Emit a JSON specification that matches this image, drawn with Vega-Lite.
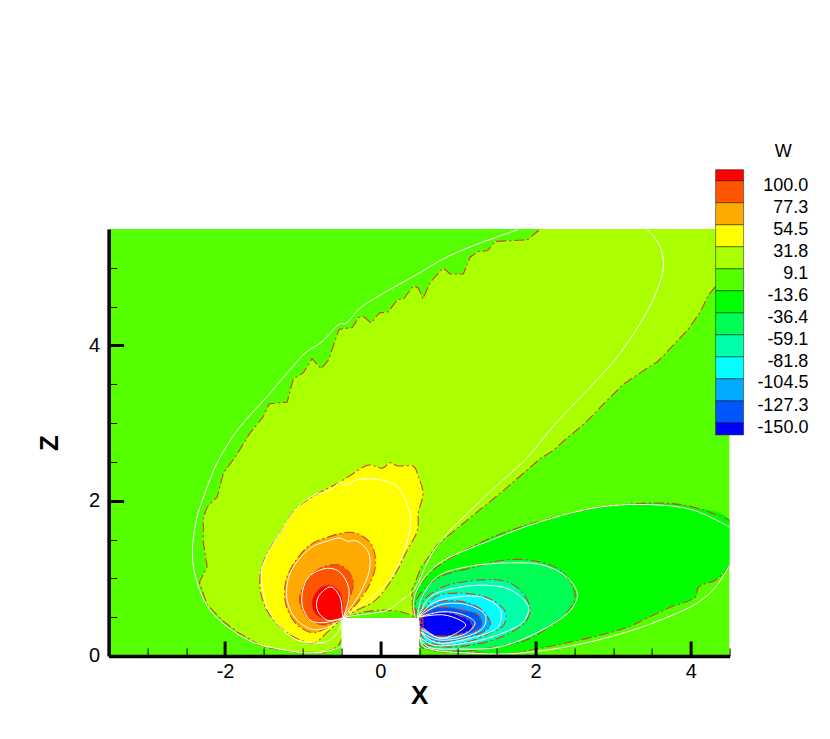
{"$schema":"https://vega.github.io/schema/vega-lite/v6.json","width":621,"height":427,"autosize":"none","padding":{"left":108.6,"top":229,"right":100,"bottom":83},"background":"white","config":{"view":{"stroke":null},"font":"Liberation Sans"},
"datasets":{
"fills":[
{"p":"base","x":-3.5,"z":0},{"p":"base","x":4.5,"z":0},{"p":"base","x":4.5,"z":5.5},{"p":"base","x":-3.5,"z":5.5},
{"p":"9.1","x":-0.48,"z":0.245},{"p":"9.1","x":-0.55,"z":0.116},{"p":"9.1","x":-0.73,"z":0.04},{"p":"9.1","x":-1.07,"z":0.05},{"p":"9.1","x":-1.51,"z":0.116},{"p":"9.1","x":-1.83,"z":0.3},{"p":"9.1","x":-2.04,"z":0.46},{"p":"9.1","x":-2.23,"z":0.66},{"p":"9.1","x":-2.33,"z":0.95},{"p":"9.1","x":-2.23,"z":1.15},{"p":"9.1","x":-2.28,"z":1.46},{"p":"9.1","x":-2.28,"z":1.78},{"p":"9.1","x":-2.23,"z":1.92},{"p":"9.1","x":-2.1,"z":2.05},{"p":"9.1","x":-2.02,"z":2.36},{"p":"9.1","x":-1.87,"z":2.56},{"p":"9.1","x":-1.68,"z":2.87},{"p":"9.1","x":-1.51,"z":3.08},{"p":"9.1","x":-1.43,"z":3.25},{"p":"9.1","x":-1.2,"z":3.27},{"p":"9.1","x":-1.12,"z":3.57},{"p":"9.1","x":-0.99,"z":3.65},{"p":"9.1","x":-0.88,"z":3.83},{"p":"9.1","x":-0.76,"z":3.7},{"p":"9.1","x":-0.67,"z":3.81},{"p":"9.1","x":-0.53,"z":4.21},{"p":"9.1","x":-0.36,"z":4.23},{"p":"9.1","x":-0.28,"z":4.36},{"p":"9.1","x":-0.21,"z":4.37},{"p":"9.1","x":-0.12,"z":4.29},{"p":"9.1","x":-0.01,"z":4.42},{"p":"9.1","x":0.1,"z":4.43},{"p":"9.1","x":0.22,"z":4.59},{"p":"9.1","x":0.3,"z":4.6},{"p":"9.1","x":0.43,"z":4.77},{"p":"9.1","x":0.49,"z":4.74},{"p":"9.1","x":0.55,"z":4.6},{"p":"9.1","x":0.64,"z":4.81},{"p":"9.1","x":0.81,"z":5.0},{"p":"9.1","x":0.9,"z":4.92},{"p":"9.1","x":1.07,"z":4.92},{"p":"9.1","x":1.16,"z":5.14},{"p":"9.1","x":1.26,"z":5.21},{"p":"9.1","x":1.38,"z":5.22},{"p":"9.1","x":1.48,"z":5.34},{"p":"9.1","x":1.89,"z":5.36},{"p":"9.1","x":2.04,"z":5.48},{"p":"9.1","x":2.06,"z":5.5},{"p":"9.1","x":4.5,"z":5.5},{"p":"9.1","x":4.5,"z":5.04},{"p":"9.1","x":4.32,"z":4.76},{"p":"9.1","x":4.23,"z":4.65},{"p":"9.1","x":4.12,"z":4.43},{"p":"9.1","x":3.97,"z":4.21},{"p":"9.1","x":3.8,"z":4.03},{"p":"9.1","x":3.65,"z":3.87},{"p":"9.1","x":3.57,"z":3.79},{"p":"9.1","x":3.35,"z":3.65},{"p":"9.1","x":3.12,"z":3.49},{"p":"9.1","x":3.03,"z":3.4},{"p":"9.1","x":2.84,"z":3.21},{"p":"9.1","x":2.77,"z":3.13},{"p":"9.1","x":2.58,"z":2.95},{"p":"9.1","x":2.41,"z":2.81},{"p":"9.1","x":2.23,"z":2.65},{"p":"9.1","x":2.06,"z":2.54},{"p":"9.1","x":1.55,"z":2.1},{"p":"9.1","x":1.12,"z":1.75},{"p":"9.1","x":0.73,"z":1.43},{"p":"9.1","x":0.52,"z":1.13},{"p":"9.1","x":0.41,"z":0.85},{"p":"9.1","x":0.41,"z":0.68},{"p":"9.1","x":0.48,"z":0.49},{"p":"9.1","x":-0.48,"z":0.49},
{"p":"-13.6b","x":-0.43,"z":0.49},{"p":"-13.6b","x":-0.28,"z":0.55},{"p":"-13.6b","x":0,"z":0.59},{"p":"-13.6b","x":0.26,"z":0.57},{"p":"-13.6b","x":0.48,"z":0.49},{"p":"-13.6b","x":-0.43,"z":0.49},
{"p":"31.8","x":-0.48,"z":0.5},{"p":"31.8","x":-0.68,"z":0.31},{"p":"31.8","x":-0.86,"z":0.17},{"p":"31.8","x":-1.2,"z":0.3},{"p":"31.8","x":-1.46,"z":0.59},{"p":"31.8","x":-1.55,"z":0.89},{"p":"31.8","x":-1.51,"z":1.2},{"p":"31.8","x":-1.29,"z":1.59},{"p":"31.8","x":-1.07,"z":1.91},{"p":"31.8","x":-0.77,"z":2.11},{"p":"31.8","x":-0.52,"z":2.24},{"p":"31.8","x":-0.35,"z":2.35},{"p":"31.8","x":-0.15,"z":2.46},{"p":"31.8","x":0.03,"z":2.42},{"p":"31.8","x":0.13,"z":2.49},{"p":"31.8","x":0.22,"z":2.45},{"p":"31.8","x":0.43,"z":2.44},{"p":"31.8","x":0.49,"z":2.31},{"p":"31.8","x":0.55,"z":2.1},{"p":"31.8","x":0.49,"z":1.84},{"p":"31.8","x":0.48,"z":1.62},{"p":"31.8","x":0.35,"z":1.37},{"p":"31.8","x":0.17,"z":1.02},{"p":"31.8","x":-0.06,"z":0.72},{"p":"31.8","x":-0.3,"z":0.59},{"p":"31.8","x":-0.48,"z":0.5},
{"p":"54.5","x":-0.48,"z":0.5},{"p":"54.5","x":-0.68,"z":0.37},{"p":"54.5","x":-0.86,"z":0.3},{"p":"54.5","x":-1.07,"z":0.4},{"p":"54.5","x":-1.22,"z":0.68},{"p":"54.5","x":-1.2,"z":1.02},{"p":"54.5","x":-0.94,"z":1.4},{"p":"54.5","x":-0.68,"z":1.53},{"p":"54.5","x":-0.35,"z":1.59},{"p":"54.5","x":-0.13,"z":1.46},{"p":"54.5","x":-0.06,"z":1.2},{"p":"54.5","x":-0.13,"z":0.94},{"p":"54.5","x":-0.3,"z":0.68},{"p":"54.5","x":-0.48,"z":0.5},
{"p":"77.3","x":-0.48,"z":0.5},{"p":"77.3","x":-0.73,"z":0.4},{"p":"77.3","x":-0.93,"z":0.49},{"p":"77.3","x":-1.04,"z":0.72},{"p":"77.3","x":-0.94,"z":0.98},{"p":"77.3","x":-0.77,"z":1.13},{"p":"77.3","x":-0.52,"z":1.17},{"p":"77.3","x":-0.35,"z":0.98},{"p":"77.3","x":-0.39,"z":0.76},{"p":"77.3","x":-0.48,"z":0.5},
{"p":"100.0","x":-0.48,"z":0.5},{"p":"100.0","x":-0.68,"z":0.46},{"p":"100.0","x":-0.84,"z":0.55},{"p":"100.0","x":-0.88,"z":0.7},{"p":"100.0","x":-0.77,"z":0.88},{"p":"100.0","x":-0.64,"z":0.91},{"p":"100.0","x":-0.52,"z":0.82},{"p":"100.0","x":-0.48,"z":0.63},{"p":"100.0","x":-0.48,"z":0.5},
{"p":"-36.4","x":0.45,"z":0.5},{"p":"-36.4","x":0.41,"z":0.66},{"p":"-36.4","x":0.48,"z":0.85},{"p":"-36.4","x":0.68,"z":1.11},{"p":"-36.4","x":1.29,"z":1.46},{"p":"-36.4","x":1.77,"z":1.65},{"p":"-36.4","x":2.54,"z":1.86},{"p":"-36.4","x":2.93,"z":1.93},{"p":"-36.4","x":3.61,"z":1.97},{"p":"-36.4","x":4.03,"z":1.92},{"p":"-36.4","x":4.5,"z":1.75},{"p":"-36.4","x":4.5,"z":1.17},{"p":"-36.4","x":4.48,"z":1.13},{"p":"-36.4","x":4.32,"z":0.98},{"p":"-36.4","x":4.1,"z":0.89},{"p":"-36.4","x":4.06,"z":0.76},{"p":"-36.4","x":3.74,"z":0.63},{"p":"-36.4","x":3.44,"z":0.49},{"p":"-36.4","x":3.18,"z":0.37},{"p":"-36.4","x":2.84,"z":0.27},{"p":"-36.4","x":2.41,"z":0.17},{"p":"-36.4","x":2.06,"z":0.1},{"p":"-36.4","x":1.64,"z":0.03},{"p":"-36.4","x":1.12,"z":0.05},{"p":"-36.4","x":0.64,"z":0.08},{"p":"-36.4","x":0.52,"z":0.21},{"p":"-36.4","x":0.49,"z":0.46},
{"p":"-59.1","x":0.49,"z":0.5},{"p":"-59.1","x":0.45,"z":0.66},{"p":"-59.1","x":0.52,"z":0.81},{"p":"-59.1","x":0.77,"z":1.02},{"p":"-59.1","x":1.16,"z":1.13},{"p":"-59.1","x":1.64,"z":1.24},{"p":"-59.1","x":2.06,"z":1.21},{"p":"-59.1","x":2.36,"z":1.07},{"p":"-59.1","x":2.51,"z":0.76},{"p":"-59.1","x":2.38,"z":0.53},{"p":"-59.1","x":2.15,"z":0.36},{"p":"-59.1","x":1.89,"z":0.21},{"p":"-59.1","x":1.51,"z":0.12},{"p":"-59.1","x":1.03,"z":0.06},{"p":"-59.1","x":0.68,"z":0.08},{"p":"-59.1","x":0.52,"z":0.12},{"p":"-59.1","x":0.5,"z":0.3},{"p":"-59.1","x":0.49,"z":0.5},
{"p":"-81.8","x":0.52,"z":0.53},{"p":"-81.8","x":0.55,"z":0.7},{"p":"-81.8","x":0.81,"z":0.89},{"p":"-81.8","x":1.29,"z":0.98},{"p":"-81.8","x":1.57,"z":0.97},{"p":"-81.8","x":1.77,"z":0.88},{"p":"-81.8","x":1.93,"z":0.62},{"p":"-81.8","x":1.87,"z":0.44},{"p":"-81.8","x":1.55,"z":0.24},{"p":"-81.8","x":1.16,"z":0.14},{"p":"-81.8","x":0.81,"z":0.12},{"p":"-81.8","x":0.55,"z":0.17},{"p":"-81.8","x":0.52,"z":0.3},{"p":"-81.8","x":0.52,"z":0.53},
{"p":"-104.5","x":0.52,"z":0.53},{"p":"-104.5","x":0.71,"z":0.76},{"p":"-104.5","x":0.99,"z":0.81},{"p":"-104.5","x":1.38,"z":0.75},{"p":"-104.5","x":1.61,"z":0.57},{"p":"-104.5","x":1.59,"z":0.4},{"p":"-104.5","x":1.42,"z":0.3},{"p":"-104.5","x":1.12,"z":0.18},{"p":"-104.5","x":0.77,"z":0.14},{"p":"-104.5","x":0.55,"z":0.23},{"p":"-104.5","x":0.52,"z":0.53},
{"p":"-127.3","x":0.55,"z":0.57},{"p":"-127.3","x":0.77,"z":0.7},{"p":"-127.3","x":0.97,"z":0.71},{"p":"-127.3","x":1.2,"z":0.66},{"p":"-127.3","x":1.35,"z":0.55},{"p":"-127.3","x":1.42,"z":0.4},{"p":"-127.3","x":1.31,"z":0.3},{"p":"-127.3","x":1.07,"z":0.23},{"p":"-127.3","x":0.77,"z":0.18},{"p":"-127.3","x":0.58,"z":0.27},{"p":"-127.3","x":0.55,"z":0.57},
{"p":"-150.0","x":0.54,"z":0.55},{"p":"-150.0","x":0.77,"z":0.63},{"p":"-150.0","x":1.07,"z":0.59},{"p":"-150.0","x":1.26,"z":0.53},{"p":"-150.0","x":1.31,"z":0.4},{"p":"-150.0","x":1.2,"z":0.31},{"p":"-150.0","x":0.94,"z":0.26},{"p":"-150.0","x":0.68,"z":0.27},{"p":"-150.0","x":0.54,"z":0.36},{"p":"-150.0","x":0.54,"z":0.55},
{"p":"min","x":0.5,"z":0.5},{"p":"min","x":0.73,"z":0.57},{"p":"min","x":0.99,"z":0.53},{"p":"min","x":1.16,"z":0.44},{"p":"min","x":1.19,"z":0.37},{"p":"min","x":1.1,"z":0.31},{"p":"min","x":0.86,"z":0.26},{"p":"min","x":0.67,"z":0.26},{"p":"min","x":0.58,"z":0.34},{"p":"min","x":0.5,"z":0.4},{"p":"min","x":0.5,"z":0.5}
],
"open":[
{"p":"a","x":-0.48,"z":0.245},{"p":"a","x":-0.55,"z":0.116},{"p":"a","x":-0.73,"z":0.04},{"p":"a","x":-1.07,"z":0.05},{"p":"a","x":-1.51,"z":0.116},{"p":"a","x":-1.83,"z":0.3},{"p":"a","x":-2.04,"z":0.46},{"p":"a","x":-2.23,"z":0.66},{"p":"a","x":-2.33,"z":0.95},{"p":"a","x":-2.23,"z":1.15},{"p":"a","x":-2.28,"z":1.46},{"p":"a","x":-2.28,"z":1.78},{"p":"a","x":-2.23,"z":1.92},{"p":"a","x":-2.1,"z":2.05},{"p":"a","x":-2.02,"z":2.36},{"p":"a","x":-1.87,"z":2.56},{"p":"a","x":-1.68,"z":2.87},{"p":"a","x":-1.51,"z":3.08},{"p":"a","x":-1.43,"z":3.25},{"p":"a","x":-1.2,"z":3.27},{"p":"a","x":-1.12,"z":3.57},{"p":"a","x":-0.99,"z":3.65},{"p":"a","x":-0.88,"z":3.83},{"p":"a","x":-0.76,"z":3.7},{"p":"a","x":-0.67,"z":3.81},{"p":"a","x":-0.53,"z":4.21},{"p":"a","x":-0.36,"z":4.23},{"p":"a","x":-0.28,"z":4.36},{"p":"a","x":-0.21,"z":4.37},{"p":"a","x":-0.12,"z":4.29},{"p":"a","x":-0.01,"z":4.42},{"p":"a","x":0.1,"z":4.43},{"p":"a","x":0.22,"z":4.59},{"p":"a","x":0.3,"z":4.6},{"p":"a","x":0.43,"z":4.77},{"p":"a","x":0.49,"z":4.74},{"p":"a","x":0.55,"z":4.6},{"p":"a","x":0.64,"z":4.81},{"p":"a","x":0.81,"z":5.0},{"p":"a","x":0.9,"z":4.92},{"p":"a","x":1.07,"z":4.92},{"p":"a","x":1.16,"z":5.14},{"p":"a","x":1.26,"z":5.21},{"p":"a","x":1.38,"z":5.22},{"p":"a","x":1.48,"z":5.34},{"p":"a","x":1.89,"z":5.36},{"p":"a","x":2.04,"z":5.48},{"p":"a","x":2.06,"z":5.5},
{"p":"b","x":4.32,"z":4.76},{"p":"b","x":4.23,"z":4.65},{"p":"b","x":4.12,"z":4.43},{"p":"b","x":3.97,"z":4.21},{"p":"b","x":3.8,"z":4.03},{"p":"b","x":3.65,"z":3.87},{"p":"b","x":3.57,"z":3.79},{"p":"b","x":3.35,"z":3.65},{"p":"b","x":3.12,"z":3.49},{"p":"b","x":3.03,"z":3.4},{"p":"b","x":2.84,"z":3.21},{"p":"b","x":2.77,"z":3.13},{"p":"b","x":2.58,"z":2.95},{"p":"b","x":2.41,"z":2.81},{"p":"b","x":2.23,"z":2.65},{"p":"b","x":2.06,"z":2.54},{"p":"b","x":1.55,"z":2.1},{"p":"b","x":1.12,"z":1.75},{"p":"b","x":0.73,"z":1.43},{"p":"b","x":0.52,"z":1.13},{"p":"b","x":0.41,"z":0.85},{"p":"b","x":0.41,"z":0.68},{"p":"b","x":0.48,"z":0.49},
{"p":"c","x":-0.43,"z":0.49},{"p":"c","x":-0.28,"z":0.55},{"p":"c","x":0,"z":0.59},{"p":"c","x":0.26,"z":0.57},{"p":"c","x":0.48,"z":0.49},
{"p":"d","x":0.45,"z":0.5},{"p":"d","x":0.41,"z":0.66},{"p":"d","x":0.48,"z":0.85},{"p":"d","x":0.68,"z":1.11},{"p":"d","x":1.29,"z":1.46},{"p":"d","x":1.77,"z":1.65},{"p":"d","x":2.54,"z":1.86},{"p":"d","x":2.93,"z":1.93},{"p":"d","x":3.61,"z":1.97},{"p":"d","x":4.03,"z":1.92},{"p":"d","x":4.5,"z":1.75},
{"p":"e","x":4.5,"z":1.17},{"p":"e","x":4.48,"z":1.13},{"p":"e","x":4.32,"z":0.98},{"p":"e","x":4.1,"z":0.89},{"p":"e","x":4.06,"z":0.76},{"p":"e","x":3.74,"z":0.63},{"p":"e","x":3.44,"z":0.49},{"p":"e","x":3.18,"z":0.37},{"p":"e","x":2.84,"z":0.27},{"p":"e","x":2.41,"z":0.17},{"p":"e","x":2.06,"z":0.1},{"p":"e","x":1.64,"z":0.03},{"p":"e","x":1.12,"z":0.05},{"p":"e","x":0.64,"z":0.08},{"p":"e","x":0.52,"z":0.21},{"p":"e","x":0.49,"z":0.46}
],
"white":[
{"p":"w1a","x":-0.48,"z":0.25},{"p":"w1a","x":-0.49,"z":0.14},{"p":"w1a","x":-0.61,"z":0.08},{"p":"w1a","x":-0.86,"z":0.04},{"p":"w1a","x":-1.25,"z":0.08},{"p":"w1a","x":-1.71,"z":0.21},{"p":"w1a","x":-2.19,"z":0.59},{"p":"w1a","x":-2.38,"z":1.02},{"p":"w1a","x":-2.42,"z":1.37},{"p":"w1a","x":-2.36,"z":1.79},{"p":"w1a","x":-2.29,"z":2.01},{"p":"w1a","x":-2.1,"z":2.49},{"p":"w1a","x":-1.84,"z":2.91},{"p":"w1a","x":-1.46,"z":3.34},{"p":"w1a","x":-1.16,"z":3.69},{"p":"w1a","x":-0.97,"z":3.9},{"p":"w1a","x":-0.75,"z":4.05},{"p":"w1a","x":-0.52,"z":4.28},{"p":"w1a","x":-0.45,"z":4.28},{"p":"w1a","x":-0.26,"z":4.48},{"p":"w1a","x":0,"z":4.65},{"p":"w1a","x":0.48,"z":4.92},{"p":"w1a","x":0.86,"z":5.14},{"p":"w1a","x":1.29,"z":5.32},{"p":"w1a","x":1.77,"z":5.49},
{"p":"w1b","x":3.44,"z":5.49},{"p":"w1b","x":3.58,"z":5.32},{"p":"w1b","x":3.65,"z":5.06},{"p":"w1b","x":3.57,"z":4.72},{"p":"w1b","x":3.35,"z":4.29},{"p":"w1b","x":3.05,"z":3.85},{"p":"w1b","x":2.71,"z":3.47},{"p":"w1b","x":2.28,"z":3.02},{"p":"w1b","x":1.87,"z":2.53},{"p":"w1b","x":1.44,"z":2.14},{"p":"w1b","x":0.71,"z":1.39},{"p":"w1b","x":0.43,"z":0.85},{"p":"w1b","x":0.26,"z":0.71},{"p":"w1b","x":0.09,"z":0.59},{"p":"w1b","x":-0.35,"z":0.52},{"p":"w1b","x":-0.48,"z":0.49},
{"p":"w2","x":-0.48,"z":0.49},{"p":"w2","x":-0.55,"z":0.3},{"p":"w2","x":-0.68,"z":0.19},{"p":"w2","x":-0.86,"z":0.17},{"p":"w2","x":-1.12,"z":0.23},{"p":"w2","x":-1.42,"z":0.55},{"p":"w2","x":-1.52,"z":0.89},{"p":"w2","x":-1.52,"z":1.15},{"p":"w2","x":-1.29,"z":1.59},{"p":"w2","x":-1.07,"z":1.91},{"p":"w2","x":-0.86,"z":2.07},{"p":"w2","x":-0.64,"z":2.14},{"p":"w2","x":-0.52,"z":2.24},{"p":"w2","x":-0.45,"z":2.2},{"p":"w2","x":-0.3,"z":2.27},{"p":"w2","x":0,"z":2.27},{"p":"w2","x":0.22,"z":2.18},{"p":"w2","x":0.36,"z":1.92},{"p":"w2","x":0.39,"z":1.71},{"p":"w2","x":0.3,"z":1.33},{"p":"w2","x":0.09,"z":0.94},{"p":"w2","x":-0.17,"z":0.72},{"p":"w2","x":-0.48,"z":0.49},
{"p":"w3","x":-0.48,"z":0.49},{"p":"w3","x":-0.68,"z":0.37},{"p":"w3","x":-0.86,"z":0.34},{"p":"w3","x":-1.07,"z":0.46},{"p":"w3","x":-1.2,"z":0.72},{"p":"w3","x":-1.16,"z":1.07},{"p":"w3","x":-0.9,"z":1.39},{"p":"w3","x":-0.68,"z":1.48},{"p":"w3","x":-0.52,"z":1.52},{"p":"w3","x":-0.43,"z":1.48},{"p":"w3","x":-0.3,"z":1.48},{"p":"w3","x":-0.15,"z":1.33},{"p":"w3","x":-0.14,"z":1.11},{"p":"w3","x":-0.26,"z":0.81},{"p":"w3","x":-0.48,"z":0.49},
{"p":"w4","x":-0.48,"z":0.49},{"p":"w4","x":-0.73,"z":0.43},{"p":"w4","x":-0.9,"z":0.46},{"p":"w4","x":-1.01,"z":0.68},{"p":"w4","x":-0.93,"z":1.01},{"p":"w4","x":-0.68,"z":1.13},{"p":"w4","x":-0.52,"z":1.08},{"p":"w4","x":-0.41,"z":0.89},{"p":"w4","x":-0.41,"z":0.72},{"p":"w4","x":-0.48,"z":0.49},
{"p":"w5","x":-0.48,"z":0.49},{"p":"w5","x":-0.68,"z":0.46},{"p":"w5","x":-0.81,"z":0.59},{"p":"w5","x":-0.8,"z":0.76},{"p":"w5","x":-0.64,"z":0.89},{"p":"w5","x":-0.52,"z":0.76},{"p":"w5","x":-0.49,"z":0.55},{"p":"w5","x":-0.48,"z":0.49},
{"p":"r1a","x":0.45,"z":0.5},{"p":"r1a","x":0.43,"z":0.72},{"p":"r1a","x":0.55,"z":0.98},{"p":"r1a","x":0.77,"z":1.2},{"p":"r1a","x":1.42,"z":1.49},{"p":"r1a","x":2.06,"z":1.73},{"p":"r1a","x":2.84,"z":1.92},{"p":"r1a","x":3.48,"z":1.95},{"p":"r1a","x":4.03,"z":1.88},{"p":"r1a","x":4.5,"z":1.66},
{"p":"r1b","x":4.5,"z":1.17},{"p":"r1b","x":4.32,"z":0.89},{"p":"r1b","x":4.08,"z":0.68},{"p":"r1b","x":3.7,"z":0.5},{"p":"r1b","x":3.18,"z":0.31},{"p":"r1b","x":2.41,"z":0.12},{"p":"r1b","x":1.68,"z":0.03},{"p":"r1b","x":1.12,"z":0.04},{"p":"r1b","x":0.68,"z":0.08},{"p":"r1b","x":0.54,"z":0.14},{"p":"r1b","x":0.5,"z":0.46},
{"p":"r2","x":0.48,"z":0.49},{"p":"r2","x":0.52,"z":0.72},{"p":"r2","x":0.73,"z":1.02},{"p":"r2","x":1.12,"z":1.15},{"p":"r2","x":1.68,"z":1.2},{"p":"r2","x":2.1,"z":1.17},{"p":"r2","x":2.41,"z":1.01},{"p":"r2","x":2.54,"z":0.79},{"p":"r2","x":2.45,"z":0.59},{"p":"r2","x":2.15,"z":0.37},{"p":"r2","x":1.55,"z":0.12},{"p":"r2","x":1.03,"z":0.09},{"p":"r2","x":0.61,"z":0.12},{"p":"r2","x":0.5,"z":0.24},
{"p":"r3","x":0.49,"z":0.5},{"p":"r3","x":0.64,"z":0.76},{"p":"r3","x":0.99,"z":0.88},{"p":"r3","x":1.38,"z":0.91},{"p":"r3","x":1.68,"z":0.85},{"p":"r3","x":1.91,"z":0.63},{"p":"r3","x":1.84,"z":0.44},{"p":"r3","x":1.51,"z":0.27},{"p":"r3","x":1.12,"z":0.17},{"p":"r3","x":0.68,"z":0.14},{"p":"r3","x":0.52,"z":0.24},
{"p":"r4","x":0.49,"z":0.5},{"p":"r4","x":0.68,"z":0.68},{"p":"r4","x":0.99,"z":0.76},{"p":"r4","x":1.33,"z":0.75},{"p":"r4","x":1.55,"z":0.59},{"p":"r4","x":1.51,"z":0.37},{"p":"r4","x":1.16,"z":0.23},{"p":"r4","x":0.73,"z":0.17},{"p":"r4","x":0.52,"z":0.3},
{"p":"r5","x":0.49,"z":0.5},{"p":"r5","x":0.77,"z":0.66},{"p":"r5","x":1.12,"z":0.66},{"p":"r5","x":1.35,"z":0.53},{"p":"r5","x":1.33,"z":0.37},{"p":"r5","x":1.07,"z":0.24},{"p":"r5","x":0.73,"z":0.21},{"p":"r5","x":0.52,"z":0.31},
{"p":"r6","x":0.49,"z":0.5},{"p":"r6","x":0.81,"z":0.57},{"p":"r6","x":1.07,"z":0.53},{"p":"r6","x":1.22,"z":0.43},{"p":"r6","x":1.12,"z":0.3},{"p":"r6","x":0.77,"z":0.23},{"p":"r6","x":0.54,"z":0.34},
{"p":"r7","x":0.49,"z":0.5},{"p":"r7","x":0.81,"z":0.53},{"p":"r7","x":1.03,"z":0.46},{"p":"r7","x":1.1,"z":0.4},{"p":"r7","x":0.99,"z":0.3},{"p":"r7","x":0.77,"z":0.23},{"p":"r7","x":0.55,"z":0.36}
],
"swatches":[
{"p":"100.0","x":4.32,"x1":4.68,"z":6.121,"z1":6.264},{"p":"77.3","x":4.32,"x1":4.68,"z":5.838,"z1":6.121},{"p":"54.5","x":4.32,"x1":4.68,"z":5.554,"z1":5.838},{"p":"31.8","x":4.32,"x1":4.68,"z":5.271,"z1":5.554},{"p":"9.1","x":4.32,"x1":4.68,"z":4.987,"z1":5.271},{"p":"-13.6","x":4.32,"x1":4.68,"z":4.704,"z1":4.987},{"p":"-36.4","x":4.32,"x1":4.68,"z":4.42,"z1":4.704},{"p":"-59.1","x":4.32,"x1":4.68,"z":4.137,"z1":4.42},{"p":"-81.8","x":4.32,"x1":4.68,"z":3.853,"z1":4.137},{"p":"-104.5","x":4.32,"x1":4.68,"z":3.57,"z1":3.853},{"p":"-127.3","x":4.32,"x1":4.68,"z":3.286,"z1":3.57},{"p":"-150.0","x":4.32,"x1":4.68,"z":3.003,"z1":3.286},{"p":"min","x":4.32,"x1":4.68,"z":2.848,"z1":3.003}
],
"labels":[
{"t":"100.0","x":5.515,"z":6.06},{"t":"77.3","x":5.515,"z":5.775},{"t":"54.5","x":5.515,"z":5.49},{"t":"31.8","x":5.515,"z":5.21},{"t":"9.1","x":5.515,"z":4.925},{"t":"-13.6","x":5.515,"z":4.64},{"t":"-36.4","x":5.515,"z":4.36},{"t":"-59.1","x":5.515,"z":4.075},{"t":"-81.8","x":5.515,"z":3.79},{"t":"-104.5","x":5.515,"z":3.51},{"t":"-127.3","x":5.515,"z":3.225},{"t":"-150.0","x":5.515,"z":2.94},{"t":"W","x":5.3,"z":6.49}
]
},
"encoding":{
"x":{"field":"x","type":"quantitative","scale":{"domain":[-3.5,4.5],"nice":false,"zero":false},"axis":{"title":"X","titleFontSize":26,"titleFontWeight":"bold","titleColor":"black","titlePadding":-6,"values":[-3,-2.5,-2,-1.5,-1,-0.5,0,0.5,1,1.5,2,2.5,3,3.5,4,4.5],"labelExpr":"datum.value % 2 === 0 ? '' + datum.value : ''","labelFontSize":20,"labelColor":"black","labelPadding":21,"labelFlush":false,"labelOverlap":false,"grid":false,"domainColor":"black","domainWidth":3.5,"tickColor":"black","tickSize":{"condition":{"test":"datum.value % 2 === 0","value":-15},"value":-8},"tickWidth":{"condition":{"test":"datum.value % 2 === 0","value":3},"value":1},"zindex":2}},
"y":{"field":"z","type":"quantitative","scale":{"domain":[0,5.5],"nice":false,"zero":false},"axis":{"title":"Z","titleFontSize":26,"titleFontWeight":"bold","titleColor":"black","titlePadding":26,"values":[0,0.5,1,1.5,2,2.5,3,3.5,4,4.5,5],"labelExpr":"datum.value % 2 === 0 ? '' + datum.value : ''","labelFontSize":20,"labelColor":"black","labelPadding":24,"labelFlush":false,"labelOverlap":false,"grid":false,"domainColor":"black","domainWidth":3.5,"tickColor":"black","tickSize":{"condition":{"test":"datum.value % 2 === 0","value":-15},"value":-8},"tickWidth":{"condition":{"test":"datum.value % 2 === 0","value":3},"value":1},"zindex":2}}
},
"layer":[
{"data":{"name":"fills"},"transform":[{"filter":"datum.p==='base' || datum.p==='9.1' || datum.p==='-13.6b'"}],"mark":{"type":"line","stroke":null,"strokeWidth":0,"clip":true},"encoding":{"fill":{"field":"p","type":"nominal","legend":null,"scale":{"domain":["base","-13.6","-13.6b","9.1","31.8","54.5","77.3","100.0","-36.4","-59.1","-81.8","-104.5","-127.3","-150.0","min"],"range":["#55ff00","#55ff00","#55ff00","#aaff00","#ffff00","#ffaa00","#ff5500","#ff0000","#00ff00","#00ff55","#00ffaa","#00ffff","#00aaff","#0055ff","#0000ff"]}},"detail":{"field":"p"},"order":{"value":null}}},
{"data":{"name":"fills"},"transform":[{"filter":"datum.p!=='base' && datum.p!=='9.1' && datum.p!=='-13.6b'"}],"mark":{"type":"line","stroke":null,"strokeWidth":0,"clip":true,"interpolate":"catmull-rom"},"encoding":{"fill":{"field":"p","type":"nominal","legend":null},"detail":{"field":"p"},"order":{"value":null}}},
{"data":{"name":"fills"},"transform":[{"filter":"datum.p!=='base' && datum.p!=='9.1' && datum.p!=='-36.4' && datum.p!=='-13.6b'"}],"mark":{"type":"line","stroke":"#cc4422","strokeWidth":1.1,"strokeDash":[10,3,2,3],"clip":true,"interpolate":"catmull-rom"},"encoding":{"detail":{"field":"p"},"order":{"value":null}}},
{"data":{"name":"open"},"transform":[{"filter":"datum.p==='a' || datum.p==='b'"}],"mark":{"type":"line","stroke":"#cc4422","strokeWidth":1.1,"strokeDash":[10,3,2,3],"clip":true},"encoding":{"detail":{"field":"p"},"order":{"value":null}}},
{"data":{"name":"open"},"transform":[{"filter":"datum.p!=='a' && datum.p!=='b'"}],"mark":{"type":"line","stroke":"#cc4422","strokeWidth":1.1,"strokeDash":[10,3,2,3],"clip":true,"interpolate":"catmull-rom"},"encoding":{"detail":{"field":"p"},"order":{"value":null}}},
{"data":{"name":"white"},"mark":{"type":"line","stroke":"white","strokeWidth":1,"clip":true,"interpolate":"catmull-rom"},"encoding":{"detail":{"field":"p"},"order":{"value":null}}},
{"data":{"values":[{"x":-0.5,"x1":0.5,"z":0,"z1":0.49}]},"mark":{"type":"rect","fill":"white","stroke":null},"encoding":{"x2":{"field":"x1"},"y2":{"field":"z1"}}},
{"data":{"name":"swatches"},"mark":{"type":"rect","stroke":"black","strokeOpacity":0.45,"strokeWidth":1},"encoding":{"x2":{"field":"x1"},"y2":{"field":"z1"},"fill":{"field":"p","type":"nominal","legend":null}}},
{"data":{"name":"labels"},"mark":{"type":"text","align":"right","baseline":"middle","fontSize":18,"color":"black","font":"Liberation Sans"},"encoding":{"text":{"field":"t"}}}
]}
